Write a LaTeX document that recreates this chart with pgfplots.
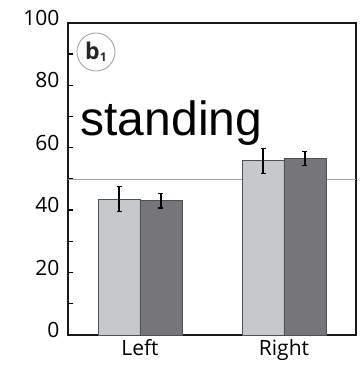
\documentclass[border=0pt]{standalone}
\usepackage{pgfplots}
\pgfplotsset{compat=1.18}
\usepackage{fontspec}
\setmainfont{Open Sans}
\newfontfamily\arialfont{Liberation Sans}

\definecolor{barlight}{RGB}{198,201,204}
\definecolor{bardark}{RGB}{118,118,122}
\definecolor{baredge}{RGB}{80,80,82}
\definecolor{refline}{RGB}{165,165,165}

\begin{document}
\begin{tikzpicture}
\path[use as bounding box] (0,0) rectangle (360bp,370bp);
\begin{axis}[
  at={(68bp,35bp)}, anchor=south west,
  scale only axis, width=288bp, height=312bp,
  xmin=-0.5, xmax=1.5, ymin=0, ymax=100,
  xtick={0,1}, xticklabels={Left,Right},
  x tick style={draw=none},
  ytick={0,20,...,100}, minor ytick={10,30,...,90},
  ytick pos=left, tick align=inside,
  major tick length=5bp, minor tick length=5bp,
  y tick style={line width=1.4bp, black},
  axis line style={line width=2bp, black!90},
  /pgf/number format/assume math mode=true,
  ticklabel style={font=\fontsize{21bp}{24bp}\selectfont, text=black},
  yticklabel style={yshift=5bp, xshift=-5bp},
  xticklabel style={yshift=-1bp},
  extra y ticks={50}, extra y tick labels={},
  extra y tick style={grid=major, major tick length=0pt,
    major grid style={refline, line width=0.9bp}},
  error bars/error bar style={black, line width=1.2bp},
  error bars/error mark options={black, mark size=2.5bp, line width=1.1bp, rotate=90},
  clip=false,
]
% light bars sit left of each category, dark bars right of it
\addplot[ybar, bar width=42bp, bar shift=0pt, fill=barlight, draw=baredge, line width=0.8bp,
  error bars/.cd, y dir=both, y explicit]
  coordinates {(-0.1458,43.5) +- (0,4.0) (0.8542,55.9) +- (0,4.0)};
\addplot[ybar, bar width=42bp, bar shift=0pt, fill=bardark, draw=baredge, line width=0.8bp,
  error bars/.cd, y dir=both, y explicit]
  coordinates {(0.1458,43.0) +- (0,2.3) (1.1458,56.6) +- (0,2.3)};

\node[anchor=base, font=\arialfont\fontsize{48bp}{52bp}\selectfont]
  at (axis description cs:0.359,0.641) {standing};
\node[circle, draw=refline, line width=0.9bp, minimum size=38bp, inner sep=0pt,
  font=\fontsize{23bp}{26bp}\selectfont\bfseries, text=black!85]
  at (axis description cs:0.097,0.907) {b\raisebox{-2bp}{\fontsize{12bp}{13bp}\selectfont 1}};
\end{axis}
\end{tikzpicture}
\end{document}
